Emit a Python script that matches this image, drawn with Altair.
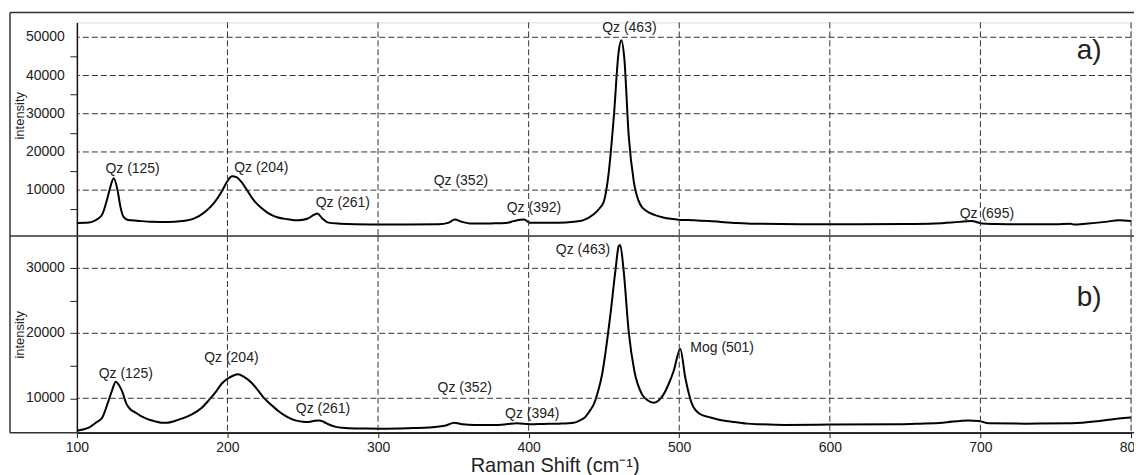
import altair as alt
import pandas as pd

FONT = "Liberation Sans"

# ---------------- data: spectrum a) ----------------
wn_a = [100, 106, 110, 114, 117, 120, 122, 124.5, 127, 129, 131, 134, 140, 150, 160, 170, 178, 185,
        191, 196, 200, 203, 206, 209, 213, 217, 222, 227, 233, 240, 247, 253, 256, 259.6, 263, 267,
        275, 285, 300, 320, 340, 347, 351, 355, 362, 375, 385, 390, 397, 401, 410, 420, 430, 436,
        443, 447, 450, 453, 456.5, 459.8, 461.5, 463.5, 466.4, 469.8, 474, 478, 483, 490, 498, 510,
        520, 535, 550, 580, 620, 650, 670, 686, 694, 701, 710, 725, 750, 760, 762, 770, 783, 792, 800]
int_a = [1400, 1450, 1700, 2500, 3800, 7500, 10500, 13100, 10000, 5500, 3000, 2200, 2000, 1700, 1650,
         1900, 2600, 4300, 6600, 9500, 12400, 13650, 13400, 12300, 10000, 7600, 5500, 4000, 2900, 2400,
         2100, 2500, 3200, 3900, 2600, 1500, 1200, 1050, 1000, 1000, 1050, 1500, 2300, 1800, 1250,
         1300, 1400, 1900, 2300, 1450, 1500, 1500, 1750, 2100, 3600, 5200, 7100, 14000, 28900, 46300,
         49200, 44600, 24500, 12300, 6300, 4600, 3600, 2800, 2350, 2100, 1900, 1500, 1200, 1100, 1100,
         1150, 1300, 1700, 1900, 1300, 1150, 1050, 1100, 1200, 1000, 1200, 1700, 2150, 1900]

# ---------------- data: spectrum b) ----------------
wn_b = [100, 104, 108, 113, 117, 121, 123.5, 125.8, 128, 130, 133, 136, 139, 143, 147, 152, 156, 160,
        165, 170, 176, 183, 188, 192, 196, 200, 204, 207, 211, 216, 220, 224, 229, 234, 239, 245, 250,
        254, 258, 261, 264, 267, 272, 276, 285, 302, 320, 333, 345, 350.5, 356, 364, 377, 385, 392,
        401, 410, 420, 430, 434, 437, 441, 443.3, 446, 448.8, 451, 454.3, 457.6, 459.8, 460.8, 463.1,
        466.4, 470.2, 475.3, 479, 483, 486.5, 489.6, 493, 496.3, 500.7, 504, 508.5, 514, 520, 525, 535,
        545, 554, 570, 600, 646, 660, 675, 692, 699, 705.6, 730, 761, 779, 792, 800]
int_b = [5000, 5200, 5500, 6300, 7100, 9600, 11300, 12550, 12000, 11100, 9100, 8200, 7800, 7200, 6800,
         6450, 6250, 6250, 6500, 6900, 7500, 8550, 9800, 10900, 12200, 13000, 13500, 13700, 13300,
         12400, 11300, 10100, 9000, 8000, 7200, 6600, 6400, 6350, 6550, 6600, 6350, 6000, 5600, 5450,
         5350, 5330, 5400, 5500, 5800, 6250, 6000, 5900, 5900, 6000, 6150, 6000, 6050, 6100, 6250,
         6600, 7000, 8200, 9100, 11000, 13700, 17000, 22900, 29600, 33400, 33600, 29600, 20350, 14200,
         10600, 9700, 9320, 9700, 10600, 12200, 14200, 17600, 13200, 9100, 7540, 7100, 6770, 6400,
         6100, 6000, 5900, 5950, 6000, 6100, 6250, 6600, 6500, 6150, 6100, 6150, 6500, 6900, 7050]

# ---------------- peak labels ----------------
lab_a_text = ["Qz (125)", "Qz (204)", "Qz (261)", "Qz (352)", "Qz (392)", "Qz (463)", "Qz (695)"]
lab_a_x = [137, 222.5, 276.6, 355, 403.5, 466.9, 704.3]
lab_a_y = [15410, 15830, 6680, 12350, 5370, 52430, 3650]

lab_b_text = ["Qz (125)", "Qz (204)", "Qz (261)", "Qz (352)", "Qz (394)", "Qz (463)", "Mog (501)"]
lab_b_x = [132.5, 202.6, 263.4, 357.6, 402.4, 436.1, 528.5]
lab_b_y = [13780, 16200, 8350, 11630, 7630, 32810, 17780]

panel_text = ["a)", "b)"]
panel_x = [772.2, 772.2]
panel_y = [46330, 25470]

# ---------------- ticks / grid ----------------
x_ticks = [100, 200, 300, 400, 500, 600, 700, 800]
grid_x = [200, 300, 400, 500, 600, 700, 800]
ytick_a = [5000, 10000, 15000, 20000, 25000, 30000, 35000, 40000, 45000, 50000]
ylab_a = [10000, 20000, 30000, 40000, 50000]
ytick_b = [10000, 15000, 20000, 25000, 30000]
ylab_b = [10000, 20000, 30000]

W = 1056
HA = 214
HB = 197
LEFT = -67     # outer frame, relative to plot origin
RIGHT = 1075

xs = alt.Scale(domain=[100, 800], nice=False, zero=False)
ysa = alt.Scale(domain=[-2000, 53900], nice=False, zero=False)
ysb = alt.Scale(domain=[4710, 34970], nice=False, zero=False)

GRID = dict(strokeDash=[6, 3], color="#333333", strokeWidth=1)
FRAME = dict(color="#333333", strokeWidth=1.5)
one = pd.DataFrame({"k": [0]})


def y_axis(values, title_y=None):
    kw = dict(values=values, labels=False, grid=False, tickSize=7,
              tickColor="#222222", tickWidth=1, domainColor="#111111", domainWidth=1.5,
              title="intensity", titleFont=FONT, titleFontSize=13, titleFontWeight="normal",
              titleColor="#222222", titleX=-57, titleBaseline="middle")
    if title_y is not None:
        kw["titleY"] = title_y
    return alt.Axis(**kw)


def panel(wn, inten, yscale, height, ticks, ylabs, lt, lx, ly, ptxt, px, py, bottom, title_y):
    df = pd.DataFrame({"wn": wn, "inten": inten})
    if bottom:
        xax = alt.Axis(values=x_ticks, format="d", grid=False, tickSize=5, tickColor="#222222",
                       domainColor="#111111", domainWidth=1.5, labelFont=FONT, labelFontSize=14,
                       labelColor="#222222", labelPadding=3, labelFlush=False, labelOverlap=False,
                       title="Raman Shift (cm\u207b\u00b9)", titleFont=FONT, titleFontSize=20,
                       titleFontWeight="normal", titleColor="#222222", titleX=394, titleY=33,
                       titleAlign="left", titleBaseline="middle")
        ox = alt.Undefined
    else:
        xax = None
        ox = None
    line = alt.Chart(df).mark_line(color="black", strokeWidth=2, interpolate="monotone").encode(
        x=alt.X("wn:Q", scale=xs, axis=xax),
        y=alt.Y("inten:Q", scale=yscale, axis=y_axis(ticks, title_y)))
    gx = alt.Chart(pd.DataFrame({"wn": grid_x})).mark_rule(**GRID).encode(
        x=alt.X("wn:Q", scale=xs, axis=ox))
    gy = alt.Chart(pd.DataFrame({"inten": ylabs})).mark_rule(**GRID).encode(
        y=alt.Y("inten:Q", scale=yscale))
    ylabels = alt.Chart(pd.DataFrame({"inten": ylabs})).mark_text(
        font=FONT, fontSize=14, color="#222222", align="right", baseline="middle").encode(
        x=alt.value(-12), y=alt.Y("inten:Q", scale=yscale), text=alt.Text("inten:Q", format="d"))
    labels = alt.Chart(pd.DataFrame({"t": lt, "wn": lx, "inten": ly})).mark_text(
        font=FONT, fontSize=14, color="#222222", align="center", baseline="middle").encode(
        x=alt.X("wn:Q", scale=xs, axis=ox), y=alt.Y("inten:Q", scale=yscale), text="t:N")
    ptext = alt.Chart(pd.DataFrame({"t": [ptxt], "wn": [px], "inten": [py]})).mark_text(
        font=FONT, fontSize=28, color="#222222", align="center", baseline="middle").encode(
        x=alt.X("wn:Q", scale=xs, axis=ox), y=alt.Y("inten:Q", scale=yscale), text="t:N")
    if bottom:
        frames = [
            alt.Chart(one).mark_rule(**FRAME).encode(x=alt.value(LEFT), y=alt.value(0), y2=alt.value(height)),
            alt.Chart(one).mark_rule(**FRAME).encode(x=alt.value(LEFT), x2=alt.value(RIGHT), y=alt.value(0)),
            alt.Chart(one).mark_rule(**FRAME).encode(x=alt.value(LEFT), x2=alt.value(RIGHT), y=alt.value(height)),
        ]
    else:
        frames = [
            alt.Chart(one).mark_rule(**FRAME).encode(x=alt.value(LEFT), y=alt.value(-10), y2=alt.value(height)),
            alt.Chart(one).mark_rule(**FRAME).encode(x=alt.value(LEFT), x2=alt.value(RIGHT), y=alt.value(-10)),
        ]
    return alt.layer(line, gx, gy, *frames, ylabels, labels, ptext).properties(width=W, height=height)


pa = panel(wn_a, int_a, ysa, HA, ytick_a, ylab_a, lab_a_text, lab_a_x, lab_a_y,
           panel_text[0], panel_x[0], panel_y[0], False, 93)
pb = panel(wn_b, int_b, ysb, HB, ytick_b, ylab_b, lab_b_text, lab_b_x, lab_b_y,
           panel_text[1], panel_x[1], panel_y[1], True, None)

chart = alt.vconcat(pa, pb, spacing=0, bounds="flush").properties(
    padding={"left": 0, "top": 2, "right": -18, "bottom": 0}
).configure_view(stroke=None).configure(font=FONT)

chart.save("out.html", embed_options={"renderer": "svg", "actions": False})
